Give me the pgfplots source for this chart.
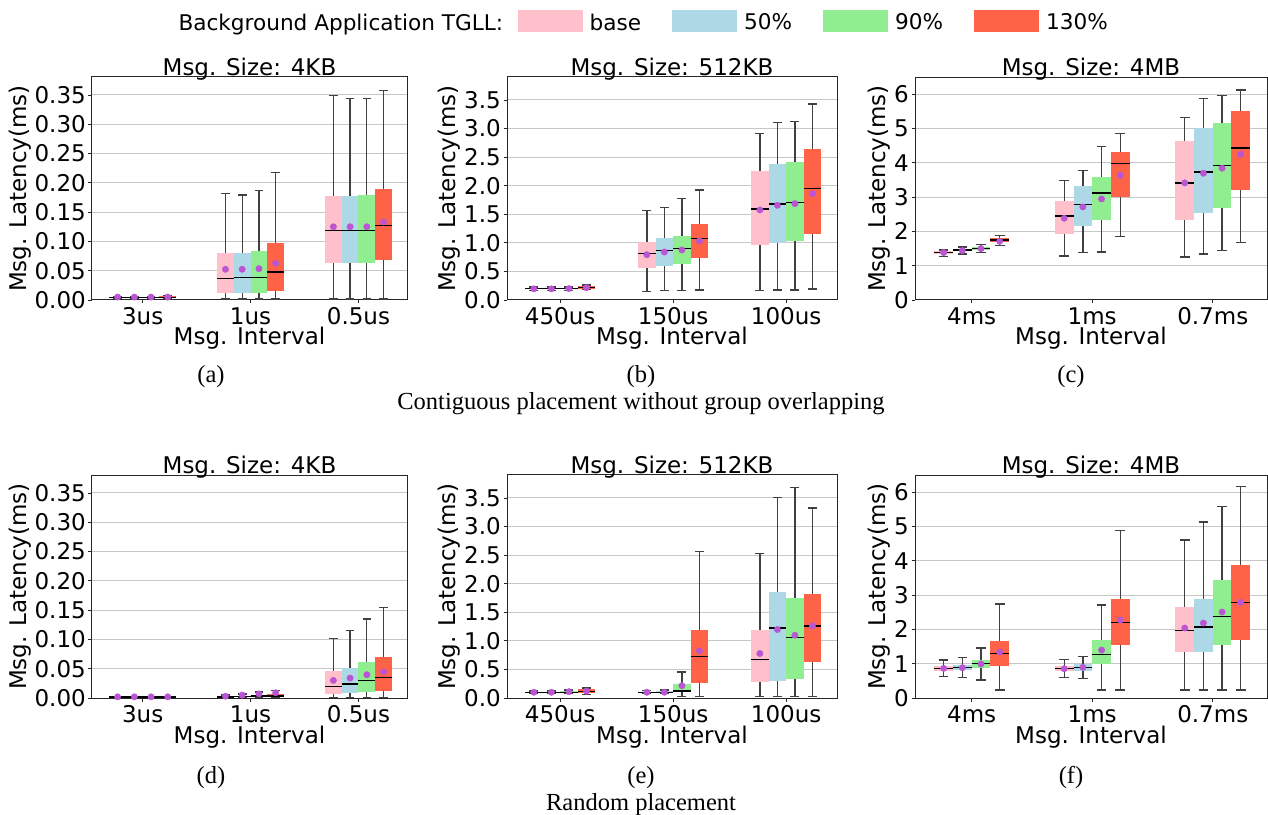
\documentclass[border=0pt]{standalone}
\usepackage{fontspec}
\setmainfont{DejaVu Sans}
\newfontfamily\serifcap{Liberation Serif}
\usepackage{pgfplots}
\pgfplotsset{compat=1.18}
\usepgfplotslibrary{statistics}
\definecolor{cpink}{HTML}{FFC0CB}
\definecolor{cblue}{HTML}{ADD8E6}
\definecolor{cgreen}{HTML}{90EE90}
\definecolor{cred}{HTML}{FF6347}
\definecolor{corchid}{HTML}{BA55D3}

\newcommand{\bx}[7]{\addplot[boxplot prepared={draw direction=y, draw position=#1, lower whisker=#2, lower quartile=#3, median=#4, upper quartile=#5, upper whisker=#6, every box/.style={fill=#7, draw=none}}] coordinates {};}

\pgfplotsset{panel/.style={
  scale only axis, height=223pt, anchor=south west,
  xmin=-0.47, xmax=2.45, ymin=0,
  xtick={0,1,2},
  ymajorgrids, grid style={draw=black!22, line width=1pt},
  axis line style={black!85, line width=1pt},
  tick style={black!85, line width=0.8pt},
  tick align=outside, major tick length=3.5pt,
  xtick pos=left, ytick pos=left,
  tick label style={font=\fontsize{23}{27}\selectfont},
  label style={font=\fontsize{23}{27}\selectfont},
  title style={font=\fontsize{23}{27}\selectfont, anchor=base, yshift=-4.5pt},
  /pgf/number format/assume math mode=true,
  scaled y ticks=false,
  ylabel={Msg. Latency(ms)}, xlabel={Msg. Interval},
  xlabel style={at={(axis description cs:0.5,0)}, anchor=base, yshift=-45pt},
  xticklabel style={anchor=base, yshift=-21pt},
  yticklabel style={inner sep=0pt, xshift=-2.5pt},
  boxplot/draw direction=y,
  boxplot/box extend=0.155,
  boxplot/whisker extend=0.08,
  boxplot/every median/.style={draw=black, line width=1.5pt},
  boxplot/every whisker/.style={draw=black!75, line width=1.3pt},
},
meanstyle/.style={only marks, color=corchid, mark=*, mark size=3.2pt, mark options={solid, draw=corchid, fill=corchid}},
smallax/.style={ymax=0.3807, ytick={0,0.05,0.1,0.15,0.2,0.25,0.3,0.35},
  yticklabel style={/pgf/number format/.cd, fixed, fixed zerofill, precision=2},
  xticklabels={3us,1us,0.5us}},
midax/.style={ymax=3.9025, ytick={0,0.5,1,1.5,2,2.5,3,3.5},
  yticklabel style={/pgf/number format/.cd, fixed, fixed zerofill, precision=1},
  xticklabels={450us,150us,100us}},
bigax/.style={ymax=6.5, ytick={0,1,2,3,4,5,6}, xticklabels={4ms,1ms,0.7ms}},
}

\begin{document}
\begin{tikzpicture}
\path[use as bounding box] (0pt,0pt) rectangle (1268pt,814pt);

% ---------- (a)
\begin{axis}[panel, smallax, at={(92pt,514pt)}, width=315pt, title={Msg. Size: 4KB}]
\bx{-0.2325}{0.002}{0.003}{0.004}{0.0055}{0.006}{cpink}
\bx{-0.0775}{0.002}{0.003}{0.004}{0.0055}{0.006}{cblue}
\bx{0.0775}{0.002}{0.003}{0.004}{0.0055}{0.006}{cgreen}
\bx{0.2325}{0.002}{0.003}{0.0045}{0.006}{0.007}{cred}
\bx{0.7675}{0.0017}{0.0125}{0.037}{0.0808}{0.1815}{cpink}
\bx{0.9225}{0.0017}{0.0125}{0.0381}{0.0797}{0.179}{cblue}
\bx{1.0775}{0.0017}{0.0125}{0.0381}{0.083}{0.187}{cgreen}
\bx{1.2325}{0.0017}{0.0154}{0.0478}{0.0973}{0.2174}{cred}
\bx{1.7675}{0.0017}{0.0626}{0.119}{0.178}{0.349}{cpink}
\bx{1.9225}{0.0017}{0.0626}{0.119}{0.178}{0.3437}{cblue}
\bx{2.0775}{0.0017}{0.0626}{0.119}{0.1787}{0.3437}{cgreen}
\bx{2.2325}{0.0017}{0.0683}{0.1275}{0.189}{0.3574}{cred}
\addplot[meanstyle] coordinates {(-0.2325,0.005) (-0.0775,0.005) (0.0775,0.005) (0.2325,0.005)
 (0.7675,0.0524) (0.9225,0.0524) (1.0775,0.0535) (1.2325,0.0626)
 (1.7675,0.125) (1.9225,0.125) (2.0775,0.125) (2.2325,0.1332)};
\end{axis}

% ---------- (b)
\begin{axis}[panel, midax, at={(507pt,514pt)}, width=330pt, title={Msg. Size: 512KB},
  legend columns=-1,
  legend style={draw=none, fill=none, font=\fontsize{21.6}{25}\selectfont,
    at={(axis description cs:0.4052,1.2466)}, anchor=center,
    /tikz/every odd column/.append style={column sep=5pt},
    /tikz/every even column/.append style={column sep=29pt}},
  legend image code/.code={\fill[#1] (0pt,-9.8pt) rectangle (65pt,12.2pt);}]
\addlegendimage{empty legend}\addlegendentry{Background Application TGLL:\kern-16.5pt}
\addlegendimage{fill=cpink, draw=none}\addlegendentry{base}
\addlegendimage{fill=cblue, draw=none}\addlegendentry{50\%}
\addlegendimage{fill=cgreen, draw=none}\addlegendentry{90\%}
\addlegendimage{fill=cred, draw=none}\addlegendentry{130\%}
\bx{-0.2325}{0.17}{0.19}{0.2}{0.21}{0.23}{cpink}
\bx{-0.0775}{0.17}{0.19}{0.2}{0.21}{0.23}{cblue}
\bx{0.0775}{0.17}{0.19}{0.2}{0.21}{0.23}{cgreen}
\bx{0.2325}{0.18}{0.2}{0.22}{0.24}{0.26}{cred}
\bx{0.7675}{0.146}{0.566}{0.817}{1.009}{1.563}{cpink}
\bx{0.9225}{0.163}{0.595}{0.863}{1.079}{1.62}{cblue}
\bx{1.0775}{0.169}{0.624}{0.904}{1.12}{1.779}{cgreen}
\bx{1.2325}{0.175}{0.735}{1.079}{1.33}{1.925}{cred}
\bx{1.7675}{0.163}{0.9625}{1.5925}{2.252}{2.917}{cpink}
\bx{1.9225}{0.175}{1.003}{1.68}{2.386}{3.109}{cblue}
\bx{2.0775}{0.175}{1.0325}{1.709}{2.415}{3.121}{cgreen}
\bx{2.2325}{0.1925}{1.155}{1.948}{2.6425}{3.43}{cred}
\addplot[meanstyle] coordinates {(-0.2325,0.195) (-0.0775,0.195) (0.0775,0.2) (0.2325,0.215)
 (0.7675,0.793) (0.9225,0.84) (1.0775,0.875) (1.2325,1.0325)
 (1.7675,1.575) (1.9225,1.657) (2.0775,1.686) (2.2325,1.861)};
\end{axis}

% ---------- (c)
\begin{axis}[panel, bigax, at={(915pt,514pt)}, width=352pt, title={Msg. Size: 4MB}]
\bx{-0.2325}{1.274}{1.34}{1.38}{1.42}{1.46}{cpink}
\bx{-0.0775}{1.342}{1.42}{1.46}{1.50}{1.546}{cblue}
\bx{0.0775}{1.38}{1.47}{1.507}{1.55}{1.624}{cgreen}
\bx{0.2325}{1.595}{1.70}{1.75}{1.818}{1.877}{cred}
\bx{0.7675}{1.284}{1.935}{2.45}{2.878}{3.48}{cpink}
\bx{0.9225}{1.39}{2.168}{2.79}{3.316}{3.782}{cblue}
\bx{1.0775}{1.40}{2.334}{3.112}{3.588}{4.473}{cgreen}
\bx{1.2325}{1.848}{3.005}{3.977}{4.318}{4.852}{cred}
\bx{1.7675}{1.254}{2.334}{3.413}{4.638}{5.329}{cpink}
\bx{1.9225}{1.342}{2.548}{3.724}{5.008}{5.873}{cblue}
\bx{2.0775}{1.439}{2.684}{3.919}{5.164}{5.961}{cgreen}
\bx{2.2325}{1.673}{3.209}{4.425}{5.514}{6.117}{cred}
\addplot[meanstyle] coordinates {(-0.2325,1.38) (-0.0775,1.44) (0.0775,1.497) (0.2325,1.711)
 (0.7675,2.382) (0.9225,2.713) (1.0775,2.946) (1.2325,3.637)
 (1.7675,3.413) (1.9225,3.695) (2.0775,3.841) (2.2325,4.25)};
\end{axis}

% ---------- (d)
\begin{axis}[panel, smallax, at={(92pt,116pt)}, width=315pt, title={Msg. Size: 4KB}]
\bx{-0.2325}{0.001}{0.001}{0.0015}{0.0025}{0.003}{cpink}
\bx{-0.0775}{0.001}{0.001}{0.0015}{0.0025}{0.003}{cblue}
\bx{0.0775}{0.001}{0.001}{0.0015}{0.0025}{0.003}{cgreen}
\bx{0.2325}{0.001}{0.001}{0.0015}{0.0025}{0.003}{cred}
\bx{0.7675}{0.001}{0.0015}{0.002}{0.003}{0.005}{cpink}
\bx{0.9225}{0.001}{0.0015}{0.0025}{0.0035}{0.007}{cblue}
\bx{1.0775}{0.001}{0.002}{0.003}{0.004}{0.010}{cgreen}
\bx{1.2325}{0.001}{0.002}{0.003}{0.007}{0.013}{cred}
\bx{1.7675}{0.001}{0.0068}{0.0193}{0.0454}{0.102}{cpink}
\bx{1.9225}{0.001}{0.0085}{0.0238}{0.051}{0.115}{cblue}
\bx{2.0775}{0.001}{0.0102}{0.030}{0.0607}{0.135}{cgreen}
\bx{2.2325}{0.001}{0.0113}{0.0346}{0.0698}{0.1543}{cred}
\addplot[meanstyle] coordinates {(-0.2325,0.002) (-0.0775,0.002) (0.0775,0.002) (0.2325,0.002)
 (0.7675,0.003) (0.9225,0.005) (1.0775,0.007) (1.2325,0.009)
 (1.7675,0.030) (1.9225,0.034) (2.0775,0.0397) (2.2325,0.0448)};
\end{axis}

% ---------- (e)
\begin{axis}[panel, midax, at={(507pt,116pt)}, width=330pt, title={Msg. Size: 512KB}]
\bx{-0.2325}{0.08}{0.09}{0.1}{0.11}{0.12}{cpink}
\bx{-0.0775}{0.08}{0.09}{0.1}{0.11}{0.12}{cblue}
\bx{0.0775}{0.08}{0.09}{0.1}{0.13}{0.14}{cgreen}
\bx{0.2325}{0.058}{0.08}{0.11}{0.15}{0.174}{cred}
\bx{0.7675}{0.08}{0.09}{0.1}{0.11}{0.13}{cpink}
\bx{0.9225}{0.08}{0.09}{0.1}{0.12}{0.14}{cblue}
\bx{1.0775}{0.029}{0.099}{0.122}{0.25}{0.4535}{cgreen}
\bx{1.2325}{0.029}{0.2616}{0.7267}{1.186}{2.558}{cred}
\bx{1.7675}{0.023}{0.273}{0.674}{1.186}{2.523}{cpink}
\bx{1.9225}{0.023}{0.2965}{1.221}{1.855}{3.512}{cblue}
\bx{2.0775}{0.023}{0.331}{1.058}{1.75}{3.68}{cgreen}
\bx{2.2325}{0.023}{0.634}{1.262}{1.814}{3.326}{cred}
\addplot[meanstyle] coordinates {(-0.2325,0.1) (-0.0775,0.1) (0.0775,0.11) (0.2325,0.12)
 (0.7675,0.1) (0.9225,0.1) (1.0775,0.215) (1.2325,0.8256)
 (1.7675,0.779) (1.9225,1.198) (2.0775,1.099) (2.2325,1.262)};
\end{axis}

% ---------- (f)
\begin{axis}[panel, bigax, at={(915pt,116pt)}, width=352pt, title={Msg. Size: 4MB}]
\bx{-0.2325}{0.621}{0.796}{0.864}{0.932}{1.107}{cpink}
\bx{-0.0775}{0.592}{0.806}{0.883}{0.951}{1.184}{cblue}
\bx{0.0775}{0.524}{0.864}{1.01}{1.117}{1.456}{cgreen}
\bx{0.2325}{0.233}{0.922}{1.301}{1.66}{2.738}{cred}
\bx{0.7675}{0.602}{0.786}{0.864}{0.922}{1.126}{cpink}
\bx{0.9225}{0.563}{0.786}{0.883}{0.98}{1.204}{cblue}
\bx{1.0775}{0.233}{0.98}{1.262}{1.689}{2.709}{cgreen}
\bx{1.2325}{0.233}{1.544}{2.194}{2.893}{4.874}{cred}
\bx{1.7675}{0.233}{1.33}{1.961}{2.65}{4.602}{cpink}
\bx{1.9225}{0.233}{1.35}{2.068}{2.893}{5.126}{cblue}
\bx{2.0775}{0.233}{1.544}{2.379}{3.427}{5.583}{cgreen}
\bx{2.2325}{0.233}{1.68}{2.786}{3.864}{6.155}{cred}
\addplot[meanstyle] coordinates {(-0.2325,0.864) (-0.0775,0.883) (0.0775,0.99) (0.2325,1.34)
 (0.7675,0.854) (0.9225,0.893) (1.0775,1.398) (1.2325,2.272)
 (1.7675,2.039) (1.9225,2.184) (2.0775,2.505) (2.2325,2.786)};
\end{axis}

% ---------- captions
\begin{scope}[every node/.style={anchor=base, inner sep=0pt, font=\serifcap\fontsize{24.5}{29}\selectfont}]
\node at (211pt,431pt) {(a)};
\node at (641pt,431pt) {(b)};
\node at (1071pt,431pt) {(c)};
\node at (641pt,404pt) {Contiguous placement without group overlapping};
\node at (211pt,31pt) {(d)};
\node at (641pt,31pt) {(e)};
\node at (1071pt,31pt) {(f)};
\node at (641pt,4pt) {Random placement};
\end{scope}
\end{tikzpicture}
\end{document}
